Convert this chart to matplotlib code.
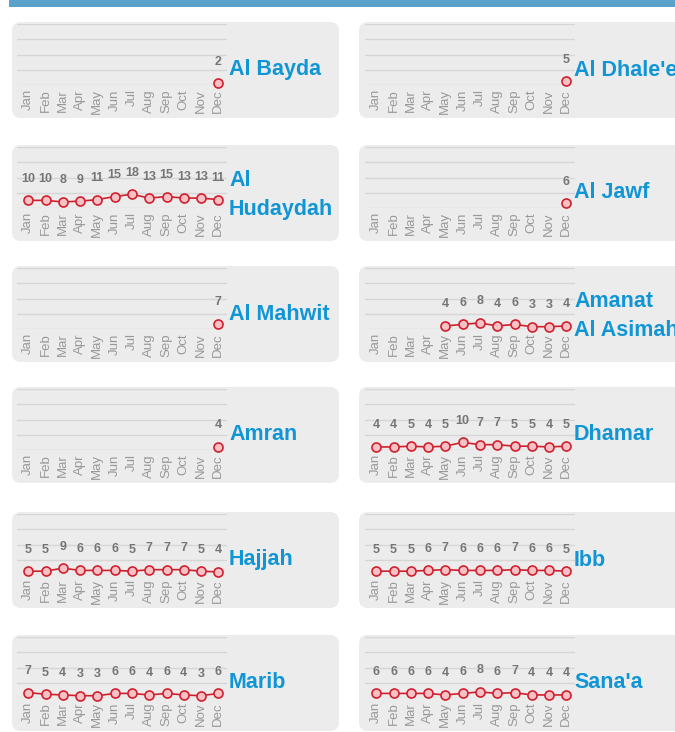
import numpy as np
import matplotlib
matplotlib.use("Agg")
import matplotlib.pyplot as plt
from matplotlib.patches import FancyBboxPatch, Rectangle

# data (monthly counts, nan = no value)
nan = np.nan
months = ["Jan", "Feb", "Mar", "Apr", "May", "Jun", "Jul", "Aug", "Sep", "Oct", "Nov", "Dec"]

names = ["Al Bayda", "Al Dhale'e", "Al\nHudaydah", "Al Jawf", "Al Mahwit", "Amanat\nAl Asimah",
         "Amran", "Dhamar", "Hajjah", "Ibb", "Marib", "Sana'a"]

al_bayda = [nan] * 11 + [2]
al_dhalee = [nan] * 11 + [5]
al_hudaydah = [10, 10, 8, 9, 11, 15, 18, 13, 15, 13, 13, 11]
al_jawf = [nan] * 11 + [6]
al_mahwit = [nan] * 11 + [7]
amanat = [nan, nan, nan, nan, 4, 6, 8, 4, 6, 3, 3, 4]
amran = [nan] * 11 + [4]
dhamar = [4, 4, 5, 4, 5, 10, 7, 7, 5, 5, 4, 5]
hajjah = [5, 5, 9, 6, 6, 6, 5, 7, 7, 7, 5, 4]
ibb = [5, 5, 5, 6, 7, 6, 6, 6, 7, 6, 6, 5]
marib = [7, 5, 4, 3, 3, 6, 6, 4, 6, 4, 3, 6]
sanaa = [6, 6, 6, 6, 4, 6, 8, 6, 7, 4, 4, 4]

series = [al_bayda, al_dhalee, al_hudaydah, al_jawf, al_mahwit, amanat,
          amran, dhamar, hajjah, ibb, marib, sanaa]

W, H = 675, 732
fig = plt.figure(figsize=(W / 100, H / 100), dpi=100)
fig.patch.set_facecolor("white")

# background layer in pixel coordinates
bg = fig.add_axes([0, 0, 1, 1])
bg.set_xlim(0, W)
bg.set_ylim(H, 0)
bg.axis("off")

bg.add_patch(Rectangle((9, -5), W, 12, color="#5ba2cb", lw=0))

row_tops = [22, 145, 266, 387, 512, 635]
panel_h = 96
col_x = [12, 359]
col_w = [327, 345]
plot_x = [17, 365]
title_x = [229, 574]

font = "Liberation Sans"
title_col = "#1196d5"
red = "#d0202e"

x = np.arange(12)

for i, (name, vals) in enumerate(zip(names, series)):
    r, c = divmod(i, 2)
    top = row_tops[r]
    bg.add_patch(FancyBboxPatch((col_x[c], top), col_w[c], panel_h,
                                boxstyle="round,pad=0,rounding_size=9",
                                fc="#ececec", ec="none"))
    ty = top + 48 if "\n" not in name else top + 50
    bg.text(title_x[c], ty, name, color=title_col, fontsize=15.5,
            fontweight="bold", family=font, ha="left", va="center",
            linespacing=1.5)

    # chart axes
    ax_top = top + 2
    ax_h = 61
    ax = fig.add_axes([plot_x[c] / W, 1 - (ax_top + ax_h) / H, 210 / W, ax_h / H])
    ax.patch.set_alpha(0)
    ax.set_xlim(-0.65, 11.5)
    ax.set_ylim(0, 80)
    ax.set_yticks([0, 20, 40, 60, 80])
    ax.yaxis.grid(True, color="#d6d6d6", lw=1)
    ax.set_axisbelow(True)
    ax.tick_params(axis="y", length=0, labelleft=False)
    ax.set_xticks(x)
    ax.set_xticklabels(months, rotation=90, fontsize=9.5, color="#999999", family=font)
    ax.tick_params(axis="x", length=0, pad=3)
    for s in ax.spines.values():
        s.set_visible(False)

    v = np.array(vals, dtype=float)
    ax.plot(x, v, color=red, lw=1.2, marker="o", ms=6.5, mfc="#f8c1c6",
            mec=red, mew=1.2, clip_on=False, zorder=3)
    for xi, vi in zip(x, v):
        if not np.isnan(vi):
            ax.annotate(f"{int(vi)}", (xi, vi), xytext=(0, 15.5), textcoords="offset points",
                        ha="center", va="center", fontsize=9, fontweight="bold",
                        color="#757575", family=font)

fig.savefig("out.png", dpi=100)
